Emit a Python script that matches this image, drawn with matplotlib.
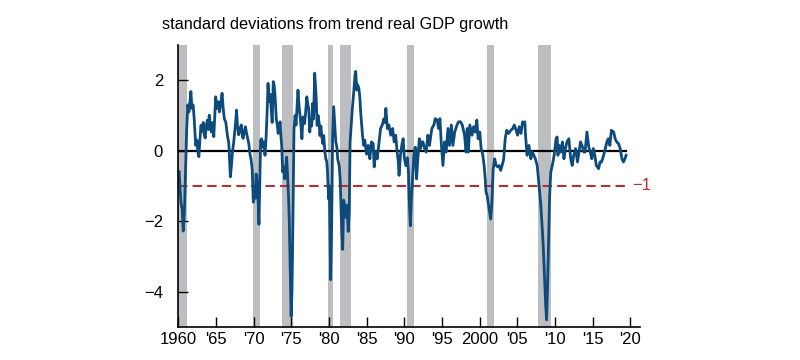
import matplotlib
matplotlib.use("Agg")
import matplotlib.pyplot as plt

plt.rcParams["font.family"] = ["Liberation Sans", "DejaVu Sans"]

# Activity index, 3-month average (decimal years)
dates = [
    1960.10, 1960.20, 1960.35, 1960.50, 1960.64, 1960.80, 1960.95, 1961.10, 1961.25, 1961.40,
    1961.55, 1961.66, 1961.80, 1961.95, 1962.10, 1962.30, 1962.45, 1962.60, 1962.72, 1962.85,
    1963.00, 1963.15, 1963.30, 1963.45, 1963.56, 1963.70, 1963.85, 1964.00, 1964.10, 1964.25,
    1964.40, 1964.55, 1964.70, 1964.85, 1964.95, 1965.10, 1965.30, 1965.45, 1965.60, 1965.80,
    1965.95, 1966.10, 1966.30, 1966.50, 1966.70, 1966.90, 1967.05, 1967.20, 1967.35, 1967.50,
    1967.62, 1967.72, 1967.85, 1968.00, 1968.15, 1968.35, 1968.50, 1968.60, 1968.75, 1968.90,
    1969.05, 1969.20, 1969.35, 1969.50, 1969.65, 1969.80, 1969.95, 1970.10, 1970.20, 1970.32,
    1970.47, 1970.58, 1970.70, 1970.82, 1970.92, 1971.05, 1971.20, 1971.35, 1971.50, 1971.65,
    1971.80, 1971.90, 1972.05, 1972.20, 1972.35, 1972.45, 1972.60, 1972.72, 1972.85, 1973.00,
    1973.15, 1973.25, 1973.40, 1973.50, 1973.62, 1973.72, 1973.85, 1974.00, 1974.12, 1974.25,
    1974.37, 1974.50, 1974.62, 1974.72, 1974.82, 1974.90, 1974.97, 1975.08, 1975.15, 1975.25,
    1975.35, 1975.50, 1975.62, 1975.75, 1975.88, 1976.05, 1976.20, 1976.40, 1976.55, 1976.75,
    1976.90, 1977.05, 1977.20, 1977.30, 1977.45, 1977.55, 1977.70, 1977.82, 1977.95, 1978.10,
    1978.22, 1978.30, 1978.42, 1978.55, 1978.68, 1978.80, 1978.92, 1979.05, 1979.18, 1979.30,
    1979.45, 1979.58, 1979.70, 1979.80, 1979.95, 1980.05, 1980.12, 1980.22, 1980.35, 1980.48,
    1980.62, 1980.75, 1980.90, 1981.05, 1981.15, 1981.35, 1981.48, 1981.58, 1981.70, 1981.82,
    1981.95, 1982.10, 1982.28, 1982.40, 1982.55, 1982.68, 1982.80, 1983.00, 1983.10, 1983.30,
    1983.45, 1983.55, 1983.68, 1983.80, 1983.97, 1984.10, 1984.20, 1984.35, 1984.45, 1984.60,
    1984.75, 1984.88, 1985.00, 1985.20, 1985.43, 1985.55, 1985.65, 1985.87, 1986.00, 1986.20,
    1986.40, 1986.60, 1986.85, 1987.07, 1987.30, 1987.45, 1987.55, 1987.75, 1987.95, 1988.20,
    1988.45, 1988.65, 1988.85, 1989.05, 1989.20, 1989.30, 1989.50, 1989.70, 1989.85, 1990.00,
    1990.20, 1990.40, 1990.55, 1990.65, 1990.80, 1990.95, 1991.05, 1991.27, 1991.45, 1991.63,
    1991.80, 1992.00, 1992.15, 1992.30, 1992.47, 1992.70, 1992.90, 1993.13, 1993.35, 1993.50,
    1993.66, 1993.93, 1994.10, 1994.37, 1994.55, 1994.73, 1994.90, 1995.13, 1995.35, 1995.55,
    1995.80, 1996.00, 1996.25, 1996.45, 1996.70, 1997.00, 1997.20, 1997.47, 1997.70, 1998.00,
    1998.20, 1998.35, 1998.50, 1998.70, 1999.00, 1999.20, 1999.40, 1999.63, 1999.80, 2000.03,
    2000.20, 2000.40, 2000.60, 2000.75, 2000.85, 2001.00, 2001.20, 2001.47, 2001.63, 2001.80,
    2002.00, 2002.20, 2002.40, 2002.60, 2002.80, 2003.05, 2003.20, 2003.40, 2003.60, 2003.85,
    2004.15, 2004.40, 2004.60, 2004.85, 2005.05, 2005.25, 2005.50, 2005.70, 2005.85, 2006.00,
    2006.10, 2006.30, 2006.55, 2006.80, 2007.00, 2007.20, 2007.40, 2007.65, 2007.90, 2008.10,
    2008.30, 2008.45, 2008.60, 2008.78, 2008.90, 2009.00, 2009.15, 2009.30, 2009.45, 2009.65,
    2009.90, 2010.15, 2010.30, 2010.40, 2010.57, 2010.77, 2011.00, 2011.20, 2011.40, 2011.60,
    2011.85, 2012.10, 2012.30, 2012.50, 2012.75, 2013.00, 2013.20, 2013.40, 2013.60, 2013.85,
    2014.00, 2014.25, 2014.50, 2014.70, 2014.90, 2015.10, 2015.30, 2015.50, 2015.80, 2016.00,
    2016.20, 2016.47, 2016.70, 2016.90, 2017.10, 2017.30, 2017.50, 2017.80, 2018.00, 2018.20,
    2018.45, 2018.67, 2018.90, 2019.10, 2019.30, 2019.45,
]
index_ma3 = [
    -0.60, -1.00, -1.50, -1.65, -2.28, -1.70, -0.50, 0.60, 1.30, 1.10,
    1.45, 1.68, 1.20, 1.30, 0.90, 0.15, 0.30, -0.05, -0.17, 0.30,
    0.72, 0.55, 0.80, 0.45, 0.36, 0.70, 0.87, 0.60, 1.01, 0.70,
    0.53, 0.80, 0.40, 1.10, 1.53, 1.20, 1.39, 1.10, 1.30, 1.63,
    1.20, 0.91, 0.80, 0.44, 0.20, -0.74, -0.40, 0.00, 0.25, 0.60,
    0.85, 1.15, 0.70, 0.45, 0.60, 0.73, 0.40, 0.35, 0.55, 0.68,
    0.50, 0.35, 0.20, -0.09, -0.25, -0.52, -1.46, -1.17, -1.35, -0.66,
    -0.90, -1.40, -2.09, -0.80, 0.30, 0.34, 0.10, 0.25, -0.13, 0.40,
    1.20, 1.91, 1.40, 1.60, 1.10, 0.80, 1.96, 1.85, 1.50, 0.90,
    0.70, 0.49, 0.60, 0.82, 0.40, 0.15, -0.60, -0.46, -0.80, -0.50,
    -0.18, -0.70, -1.28, -1.94, -2.99, -3.90, -4.70, -4.03, -3.00, -1.20,
    0.60, 1.00, 0.73, 1.20, 1.72, 1.20, 0.91, 0.34, 0.96, 0.77,
    1.10, 1.53, 1.30, 1.20, 0.53, 0.90, 0.70, 1.34, 0.90, 2.20,
    1.80, 1.48, 0.72, 1.00, 0.80, 0.43, 0.70, 0.40, 0.20, 0.43,
    -0.03, -0.23, -0.30, -0.60, -1.37, -1.00, -2.20, -3.66, -2.14, 0.40,
    1.25, 0.80, 0.25, 0.10, -0.23, -0.42, -0.80, -1.47, -2.32, -2.80,
    -1.40, -1.57, -1.90, -1.55, -2.29, -1.76, 0.25, 0.90, 1.20, 1.70,
    2.15, 2.25, 1.72, 1.87, 1.77, 1.50, 1.10, 0.70, 0.44, 0.15,
    0.30, 0.10, -0.10, 0.15, -0.23, 0.10, 0.25, 0.20, -0.46, -0.04,
    -0.23, 0.15, 0.63, 0.73, 0.91, 0.80, 1.20, 0.63, 0.73, 0.44,
    0.63, 0.25, 0.44, -0.04, -0.30, -0.70, -0.10, 0.20, 0.34, -0.20,
    -0.42, -0.20, -0.60, -1.37, -2.13, -1.30, -0.97, -0.13, 0.10, -0.80,
    -0.20, 0.34, 0.06, 0.25, 0.25, 0.06, -0.04, 0.44, 0.15, 0.40,
    0.63, 0.73, 0.91, 0.87, 0.63, 0.91, 0.25, -0.42, 0.25, -0.04,
    0.63, 0.15, 0.73, 0.15, 0.53, 0.73, 0.82, 0.82, 0.73, 0.44,
    -0.04, 0.63, -0.04, 0.73, 0.44, 0.68, 0.53, 0.87, 0.34, 0.53,
    0.06, -0.09, -0.42, -0.80, -1.17, -1.27, -1.57, -1.94, -1.47, -0.52,
    -0.23, -0.42, -0.46, -0.42, -0.56, -0.37, -0.23, 0.34, 0.58, 0.49,
    0.58, 0.63, 0.73, 0.58, 0.44, 0.68, 0.49, 0.82, 0.77, 0.82,
    0.44, -0.13, 0.15, -0.23, -0.04, -0.13, -0.23, -0.42, -0.99, -1.47,
    -2.13, -2.70, -3.47, -4.42, -4.80, -4.04, -2.70, -1.27, -0.61, -0.42,
    -0.13, 0.34, 0.39, -0.13, 0.15, -0.04, 0.25, -0.23, 0.06, 0.25,
    0.34, -0.23, -0.42, -0.13, 0.06, -0.32, -0.04, 0.25, 0.15, -0.04,
    -0.04, 0.53, 0.10, -0.04, -0.23, 0.06, -0.13, -0.42, -0.51, -0.32,
    -0.32, -0.13, 0.06, 0.25, 0.34, 0.15, 0.58, 0.53, 0.34, 0.25,
    0.20, 0.06, -0.23, -0.32, -0.23, -0.13,
]

# Recession bands
recession_start = [1960.0, 1969.85, 1973.75, 1979.9, 1981.4, 1990.4, 2001.0, 2007.8]
recession_end = [1961.15, 1970.88, 1975.2, 1980.55, 1982.88, 1991.25, 2001.88, 2009.47]

x_ticks = [1960, 1965, 1970, 1975, 1980, 1985, 1990, 1995, 2000, 2005, 2010, 2015, 2020]
x_tick_labels = ["1960", "'65", "'70", "'75", "'80", "'85", "'90", "'95",
                 "2000", "'05", "'10", "'15", "'20"]
y_ticks = [-4, -2, 0, 2]
threshold = -1
last_date = 2019.5

fig = plt.figure(figsize=(8, 3.6), dpi=100)
ax = fig.add_axes([0.223, 0.092, 0.577, 0.783])

for start, end in zip(recession_start, recession_end):
    ax.axvspan(start, end, color="#bdbec2", lw=0, zorder=0)

ax.plot([1960, last_date], [0, 0], color="black", lw=1.6, zorder=1)
ax.plot([1960, last_date], [threshold, threshold], color="#b03035", lw=1.5,
        dashes=(4.5, 2.5), zorder=1)
ax.text(2020.2, threshold, "\u22121", color="#b03035", fontsize=12,
        ha="left", va="center")

ax.plot(dates, index_ma3, color="#0d4b7c", lw=2.0, zorder=2)

ax.set_xlim(1960, 2021.3)
ax.set_ylim(-5, 3)
ax.set_xticks(x_ticks)
ax.set_xticklabels(x_tick_labels)
ax.set_yticks(y_ticks)
ax.tick_params(direction="in", length=7, width=1, labelsize=12, color="black")
ax.tick_params(axis="y", pad=11)
ax.tick_params(axis="x", pad=4)

for side in ["top", "right"]:
    ax.spines[side].set_visible(False)
for side in ["left", "bottom"]:
    ax.spines[side].set_linewidth(1.2)

fig.text(162 / 800, 1 - 25 / 360, "standard deviations from trend real GDP growth",
         ha="left", va="center", fontsize=11.8)

fig.savefig("out.png", dpi=100)
